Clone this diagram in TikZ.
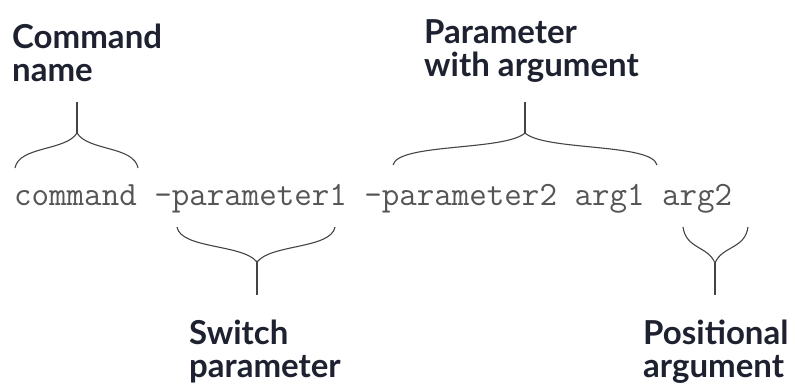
\documentclass[tikz,border=0pt]{standalone}
\usepackage{fontspec}
\newfontfamily\labfont{Lato}
\definecolor{codegray}{HTML}{555555}
\definecolor{labcol}{HTML}{1E2230}
\definecolor{bracecol}{HTML}{444444}
\begin{document}
\begin{tikzpicture}[x=1pt,y=-1pt,
  lab/.style={inner sep=0pt, align=left, text=labcol, anchor=base west,
    font=\labfont\bfseries\fontsize{33}{33}\selectfont},
  code/.style={inner sep=0pt, anchor=base west, text=codegray,
    font=\ttfamily\fontsize{34}{40}\selectfont},
  brace/.style={draw=bracecol, line width=1.1pt}]
\useasboundingbox (0,0) rectangle (795,384);
% code line
\node[code] (cmd) at (14,205) {command -parameter1 -parameter2 arg1 arg2};
% labels (anchor at baseline of last line)
\node[lab] (lcmd) at (12,81) {Command\\name};
\node[lab] (lpwa) at (424,76) {Parameter\\with argument};
\node[lab] (lsw) at (189,377) {Switch\\parameter};
\node[lab] (lpos) at (643,377) {Positional\\argument};
% brace tips
\coordinate (t1) at (77,133);  \coordinate (s1) at (77,102);
\coordinate (t2) at (525,133); \coordinate (s2) at (525,102);
\coordinate (t3) at (257,262); \coordinate (s3) at (257,295);
\coordinate (t4) at (715,263); \coordinate (s4) at (715,295);
% command name brace (above)
\draw[brace] (15,168) .. controls (19,146) and (66,151) .. (t1)
             .. controls (88,151) and (134,146) .. (138,168);
\draw[brace] (t1) -- (s1);
% parameter with argument brace (above)
\draw[brace] (393,165) .. controls (398,143) and (505,151) .. (t2)
             .. controls (545,151) and (652,143) .. (657,165);
\draw[brace] (t2) -- (s2);
% switch parameter brace (below)
\draw[brace] (177,227) .. controls (181,249) and (243,244) .. (t3)
             .. controls (271,244) and (331,249) .. (335,227);
\draw[brace] (t3) -- (s3);
% positional argument brace (below)
\draw[brace] (683,227) .. controls (686,249) and (708,246) .. (t4)
             .. controls (722,246) and (745,249) .. (748,227);
\draw[brace] (t4) -- (s4);
\end{tikzpicture}
\end{document}
